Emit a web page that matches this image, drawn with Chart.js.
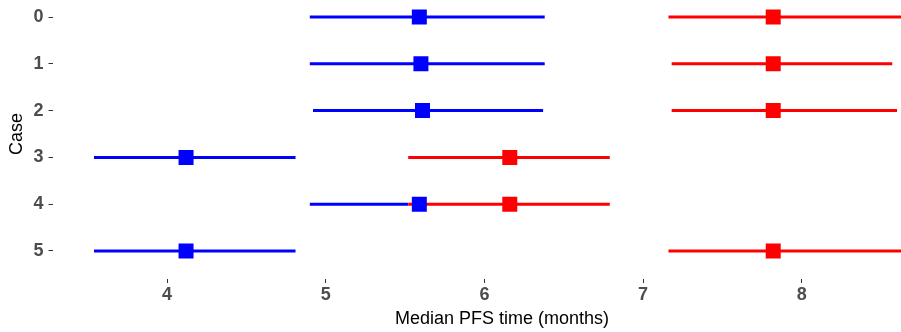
<!DOCTYPE html>
<html lang="en">
<head>
    <meta charset="UTF-8">
    <title>Median PFS time by case</title>
    <script src="https://cdn.jsdelivr.net/npm/chart.js"></script>
    <style>
        body { margin: 0; overflow: hidden; background: #fff; }
        #wrap { position: absolute; left: 0; top: -11px; width: 960px; height: 343px; }
    </style>
</head>
<body>
    <div id="wrap"><canvas id="pfs-chart"></canvas></div>

    <script>
        // Data
        const cases = [0, 1, 2, 3, 4, 5];
        const xTicks = [4, 5, 6, 7, 8];

        const blueMedian = [5.59, 5.60, 5.61, 4.12, 5.59, 4.12];
        const blueLower  = [4.90, 4.90, 4.92, 3.54, 4.90, 3.54];
        const blueUpper  = [6.38, 6.38, 6.37, 4.81, 5.52, 4.81];

        const redMedian = [7.82, 7.82, 7.82, 6.16, 6.16, 7.82];
        const redLower  = [7.16, 7.18, 7.18, 5.52, 5.52, 7.16];
        const redUpper  = [8.68, 8.57, 8.60, 6.79, 6.79, 8.68];

        const BLUE = '#0000FF';
        const RED = '#FF0000';
        const FONT = '"Liberation Sans", Arial, sans-serif';

        // one small line dataset per interval
        function intervals(lower, upper, color, order) {
            return cases.map((c, i) => ({
                type: 'line',
                data: [{ x: lower[i], y: c }, { x: upper[i], y: c }],
                borderColor: color,
                borderWidth: 3,
                pointRadius: 0,
                pointHoverRadius: 0,
                fill: false,
                order: order
            }));
        }

        function medians(values, color) {
            return {
                type: 'scatter',
                data: cases.map((c, i) => ({ x: values[i], y: c })),
                backgroundColor: color,
                borderWidth: 0,
                pointStyle: 'rect',
                pointRadius: 10.6,
                pointHoverRadius: 10.6,
                order: 0
            };
        }

        const datasets = [
            medians(blueMedian, BLUE),
            medians(redMedian, RED),
            ...intervals(redLower, redUpper, RED, 1),
            ...intervals(blueLower, blueUpper, BLUE, 2)
        ];

        const ctx = document.getElementById('pfs-chart').getContext('2d');
        new Chart(ctx, {
            type: 'scatter',
            data: { datasets: datasets },
            options: {
                responsive: true,
                maintainAspectRatio: false,
                animation: false,
                events: [],
                layout: { autoPadding: false, padding: { top: 0, right: 8.4, left: 0, bottom: 0 } },
                plugins: { legend: { display: false }, tooltip: { enabled: false } },
                scales: {
                    x: {
                        type: 'linear',
                        min: 3.2785,
                        max: 8.944,
                        afterBuildTicks: axis => { axis.ticks = xTicks.map(v => ({ value: v })); },
                        afterFit: axis => {
                            axis.height = 53;
                            axis.paddingLeft = 0;
                            axis.paddingRight = 0;
                        },
                        border: { display: false },
                        grid: { drawOnChartArea: false, drawTicks: true, tickLength: 4, color: '#333333' },
                        ticks: {
                            padding: 1,
                            color: '#4D4D4D',
                            font: { family: FONT, size: 18, weight: 'bold' }
                        },
                        title: {
                            display: true,
                            text: 'Median PFS time (months)',
                            color: '#000',
                            font: { family: FONT, size: 18 },
                            padding: { top: 0, bottom: 2 }
                        }
                    },
                    y: {
                        type: 'linear',
                        reverse: true,
                        min: -0.6,
                        max: 5.6,
                        afterBuildTicks: axis => { axis.ticks = cases.map(v => ({ value: v })); },
                        afterFit: axis => {
                            axis.width = 52.5;
                            axis.paddingTop = 0;
                            axis.paddingBottom = 0;
                        },
                        border: { display: false },
                        grid: { drawOnChartArea: false, drawTicks: true, tickLength: 4, color: '#333333' },
                        ticks: {
                            padding: 5,
                            color: '#4D4D4D',
                            font: { family: FONT, size: 18, weight: 'bold' }
                        },
                        title: {
                            display: true,
                            text: 'Case',
                            color: '#000',
                            font: { family: FONT, size: 18 },
                            padding: { top: 6, bottom: 0 }
                        }
                    }
                }
            }
        });
    </script>
</body>
</html>
